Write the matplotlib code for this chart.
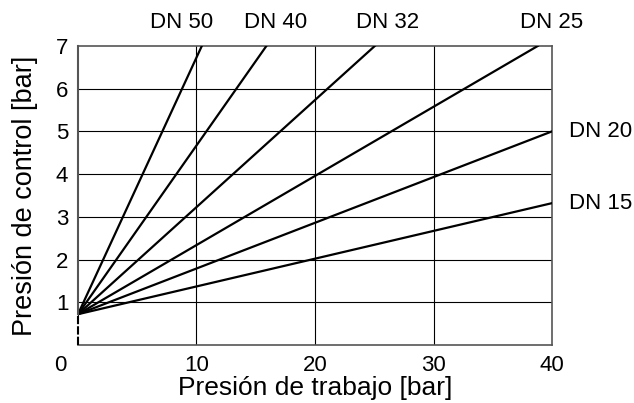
import matplotlib.pyplot as plt

plt.rcParams['font.family'] = ['Liberation Sans', 'DejaVu Sans']

# common start point of all curves
x0, y0 = 0, 0.72

# end points of each DN line
labels = ["DN 50", "DN 40", "DN 32", "DN 25", "DN 20", "DN 15"]
x_end = [10.45, 15.9, 25.05, 38.8, 40, 40]
y_end = [7, 7, 7, 7, 5.0, 3.32]

# label anchor positions (data units)
lab_x = [8.75, 16.7, 26.1, 40.0, 41.4, 41.4]
lab_y = [7.56, 7.56, 7.56, 7.56, 5.0, 3.32]
lab_ha = ["center", "center", "center", "center", "left", "left"]

xticks = [10, 20, 30, 40]
yticks = [1, 2, 3, 4, 5, 6, 7]

fig = plt.figure(figsize=(6.34, 4.03), dpi=100)
ax = fig.add_axes([0.123, 0.144, 0.7477, 0.742])
ax.set_xlim(0, 40)
ax.set_ylim(0, 7)

for v in xticks[:-1]:
    ax.axvline(v, color="black", lw=0.8, zorder=1)
for v in yticks[:-1]:
    ax.axhline(v, color="black", lw=0.8, zorder=1)

for xe, ye in zip(x_end, y_end):
    ax.plot([x0, xe], [y0, ye], color="black", lw=1.6, zorder=3)

for t, lx, ly, ha in zip(labels, lab_x, lab_y, lab_ha):
    ax.text(lx, ly, t, ha=ha, va="center", fontsize=16, clip_on=False)

for s in ["top", "right", "bottom"]:
    ax.spines[s].set_color("#555555")
    ax.spines[s].set_linewidth(1.2)
ax.spines["left"].set_visible(False)
ax.plot([0, 0], [y0, 7], color="#555555", lw=1.5, clip_on=False, zorder=4)
ax.plot([0, 0], [0, y0], color="black", lw=1.5, ls=(0, (4, 1)), clip_on=False, zorder=4)

ax.set_xticks(xticks)
ax.set_yticks(yticks)
ax.tick_params(length=0, labelsize=16, pad=7)
ax.text(-1.5, -0.47, "0", ha="center", va="center", fontsize=16, clip_on=False)

ax.set_xlabel("Presión de trabajo [bar]", fontsize=19, labelpad=0)
ax.set_ylabel("Presión de control [bar]", fontsize=19.5, labelpad=13)

fig.savefig("out.png", dpi=100)
